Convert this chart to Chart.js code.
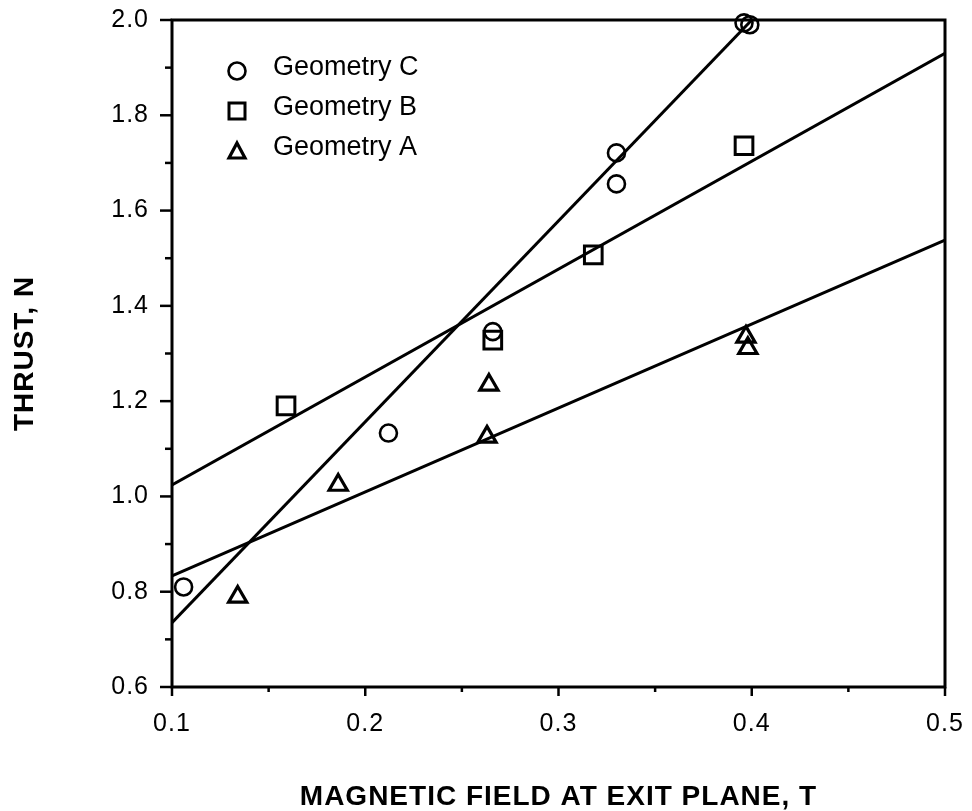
<!DOCTYPE html>
<html>
<head>
<meta charset="utf-8">
<title>Thrust vs magnetic field</title>
<script src="https://cdn.jsdelivr.net/npm/chart.js@4/dist/chart.umd.min.js"></script>
<style>
html,body{margin:0;padding:0;background:#fff;}
#wrap{width:972px;height:811px;}
</style>
</head>
<body>
<div id="wrap"><canvas id="thrustChart" width="972" height="811"></canvas></div>
<script>
let geoCx=[0.106,0.212,0.266,0.330,0.330,0.396,0.399]
let geoCy=[0.81,1.133,1.346,1.721,1.656,1.994,1.99]
let geoBx=[0.159,0.266,0.318,0.396]
let geoBy=[1.19,1.328,1.507,1.736]
let geoAx=[0.134,0.186,0.263,0.264,0.397,0.398]
let geoAy=[0.789,1.024,1.125,1.234,1.335,1.311]
// fitted lines (end points)
let fitCx=[0.1,0.4],fitCy=[0.735,2.0]
let fitBx=[0.1,0.5],fitBy=[1.024,1.93]
let fitAx=[0.1,0.5],fitAy=[0.833,1.538]
let legendNames=['Geometry C','Geometry B','Geometry A']
let xTitle='MAGNETIC FIELD AT EXIT PLANE, T'
let yTitle='THRUST, N'

let font='"Liberation Sans", Arial, Helvetica, sans-serif'
let zip=(a,b)=>a.map((v,i)=>({x:v,y:b[i]}))
let isTenth=v=>Math.abs(v*10-Math.round(v*10))<1e-6
let isFifth=v=>isTenth(v)&&Math.round(v*10)%2===0

let markSet=(label,xs,ys,style,r,bw)=>({
	label:label,
	data:zip(xs,ys),
	pointStyle:style,
	pointRadius:r,
	pointHoverRadius:r,
	pointBorderWidth:bw,
	pointBorderColor:'#000',
	pointBackgroundColor:'rgba(0,0,0,0)',
	showLine:false,
	clip:false
})
let fitSet=(xs,ys)=>({
	label:'',
	data:zip(xs,ys),
	showLine:true,
	pointRadius:0,
	borderColor:'#000',
	borderWidth:3,
	tension:0
})

let drawMarker=(ctx,style,x,y)=>{
	ctx.beginPath()
	if(style==='circle'){
		ctx.lineWidth=2.6
		ctx.arc(x,y,8.5,0,Math.PI*2)
	}else if(style==='rect'){
		ctx.lineWidth=3
		ctx.rect(x-8,y-8,16,16)
	}else{
		ctx.lineWidth=3.2
		ctx.moveTo(x,y-8);ctx.lineTo(x+8,y+7);ctx.lineTo(x-8,y+7);ctx.closePath()
	}
	ctx.stroke()
}

let framePlugin={
	id:'framePlugin',
	beforeDraw(chart){
		// the typed axis text is a little spread out
		chart.ctx.letterSpacing='1px'
	},
	beforeDatasetsDraw(chart){
		chart.ctx.letterSpacing='0px'
	},
	afterDraw(chart){
		let ctx=chart.ctx,a=chart.chartArea,sx=chart.scales.x,sy=chart.scales.y
		ctx.save()
		ctx.letterSpacing='0px'
		ctx.strokeStyle='#000'
		ctx.lineWidth=3
		ctx.strokeRect(a.left,a.top,a.right-a.left,a.bottom-a.top)
		ctx.lineWidth=2.5
		sx.ticks.forEach(t=>{
			let px=sx.getPixelForValue(t.value)
			let len=isTenth(t.value)?9:5
			ctx.beginPath();ctx.moveTo(px,a.bottom);ctx.lineTo(px,a.bottom+len);ctx.stroke()
		})
		sy.ticks.forEach(t=>{
			let py=sy.getPixelForValue(t.value)
			let len=isFifth(t.value)?12:7
			ctx.beginPath();ctx.moveTo(a.left,py);ctx.lineTo(a.left-len,py);ctx.stroke()
		})
		// legend inside the plot
		let styles=['circle','rect','triangle']
		ctx.fillStyle='#000'
		ctx.font='27px '+font
		ctx.textBaseline='middle'
		legendNames.forEach((n,i)=>{
			let y=68+i*40
			drawMarker(ctx,styles[i],237,y+3)
			ctx.fillText(n,273,y)
		})
		ctx.restore()
	}
}

let thrustChart=new Chart(document.getElementById('thrustChart'),{
	type:'scatter',
	data:{
		datasets:[
			fitSet(fitCx,fitCy),
			fitSet(fitBx,fitBy),
			fitSet(fitAx,fitAy),
			markSet(legendNames[0],geoCx,geoCy,'circle',8.5,2.6),
			markSet(legendNames[1],geoBx,geoBy,'rect',12.5,3),
			markSet(legendNames[2],geoAx,geoAy,'triangle',10.5,3.2)
		]
	},
	options:{
		responsive:false,
		animation:false,
		events:[],
		layout:{padding:{left:0,top:20,right:27,bottom:0}},
		plugins:{legend:{display:false},tooltip:{enabled:false}},
		scales:{
			x:{
				type:'linear',min:0.1,max:0.5,
				afterFit:s=>{s.height=124},
				// invisible tick marks only push the labels away from the axis
				grid:{display:true,drawOnChartArea:false,drawTicks:true,tickLength:22,tickColor:'rgba(0,0,0,0)'},
				border:{display:false},
				ticks:{
					stepSize:0.05,autoSkip:false,maxRotation:0,padding:0,
					color:'#000',font:{family:font,size:25},
					callback:v=>isTenth(v)?v.toFixed(1):''
				},
				title:{display:true,text:xTitle,color:'#000',
					font:{family:font,size:28,weight:'bold',lineHeight:1},padding:{top:0,bottom:0}}
			},
			y:{
				type:'linear',min:0.6,max:2.0,
				afterFit:s=>{s.width=172},
				grid:{display:true,drawOnChartArea:false,drawTicks:true,tickLength:23,tickColor:'rgba(0,0,0,0)'},
				border:{display:false},
				ticks:{
					stepSize:0.1,autoSkip:false,padding:0,
					color:'#000',font:{family:font,size:25},
					callback:v=>isFifth(v)?v.toFixed(1):''
				},
				title:{display:true,text:yTitle,color:'#000',
					font:{family:font,size:28,weight:'bold',lineHeight:1},padding:{top:11,bottom:0}}
			}
		}
	},
	plugins:[framePlugin]
})
</script>
</body>
</html>
